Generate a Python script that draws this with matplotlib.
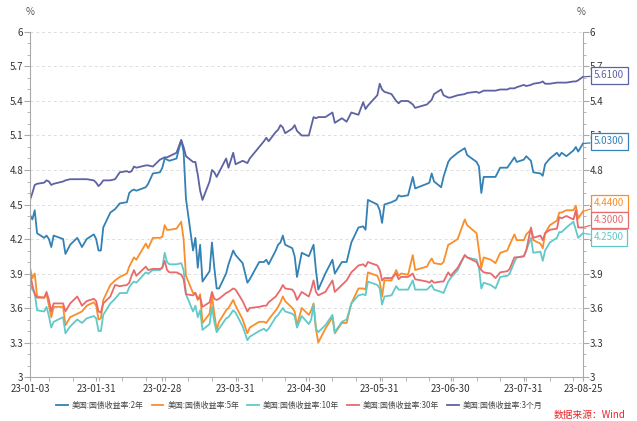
import matplotlib
matplotlib.use("Agg")
import matplotlib.pyplot as plt
import matplotlib.dates as mdates
from matplotlib.ticker import MultipleLocator, FuncFormatter
import pandas as pd

plt.rcParams['font.family'] = ['Noto Sans CJK SC', 'DejaVu Sans']

dates = ["2023-01-03", "2023-01-04", "2023-01-05", "2023-01-06", "2023-01-09", "2023-01-10",
         "2023-01-11", "2023-01-12", "2023-01-13", "2023-01-17", "2023-01-18", "2023-01-20",
         "2023-01-23", "2023-01-25", "2023-01-27", "2023-01-30", "2023-01-31", "2023-02-01",
         "2023-02-02", "2023-02-03", "2023-02-06", "2023-02-08", "2023-02-10", "2023-02-13",
         "2023-02-14", "2023-02-15", "2023-02-16", "2023-02-17", "2023-02-21", "2023-02-22",
         "2023-02-24", "2023-02-27", "2023-02-28", "2023-03-01", "2023-03-02", "2023-03-03",
         "2023-03-06", "2023-03-08", "2023-03-09", "2023-03-10", "2023-03-13", "2023-03-14",
         "2023-03-15", "2023-03-16", "2023-03-17", "2023-03-20", "2023-03-21", "2023-03-22",
         "2023-03-23", "2023-03-24", "2023-03-27", "2023-03-28", "2023-03-30", "2023-03-31",
         "2023-04-03", "2023-04-05", "2023-04-06", "2023-04-10", "2023-04-12", "2023-04-13",
         "2023-04-14", "2023-04-17", "2023-04-18", "2023-04-19", "2023-04-20", "2023-04-21",
         "2023-04-24", "2023-04-25", "2023-04-26", "2023-04-28", "2023-05-01", "2023-05-02",
         "2023-05-03", "2023-05-04", "2023-05-05", "2023-05-08", "2023-05-11", "2023-05-12",
         "2023-05-15", "2023-05-17", "2023-05-19", "2023-05-22", "2023-05-24", "2023-05-25",
         "2023-05-26", "2023-05-30", "2023-05-31", "2023-06-01", "2023-06-02", "2023-06-05",
         "2023-06-07", "2023-06-08", "2023-06-09", "2023-06-12", "2023-06-14", "2023-06-15",
         "2023-06-20", "2023-06-21", "2023-06-22", "2023-06-23", "2023-06-26", "2023-06-27",
         "2023-06-29", "2023-06-30", "2023-07-03", "2023-07-06", "2023-07-07", "2023-07-11",
         "2023-07-12", "2023-07-13", "2023-07-14", "2023-07-17", "2023-07-19", "2023-07-21",
         "2023-07-24", "2023-07-25", "2023-07-27", "2023-07-28", "2023-07-31", "2023-08-01",
         "2023-08-03", "2023-08-04", "2023-08-07", "2023-08-08", "2023-08-09", "2023-08-11",
         "2023-08-14", "2023-08-15", "2023-08-16", "2023-08-18", "2023-08-21", "2023-08-22",
         "2023-08-23", "2023-08-25"]

y2 = [4.41, 4.37, 4.45, 4.25, 4.21, 4.23, 4.20, 4.13, 4.23, 4.20, 4.07, 4.15,
      4.21, 4.13, 4.20, 4.24, 4.20, 4.10, 4.10, 4.30, 4.43, 4.46, 4.51, 4.52,
      4.60, 4.62, 4.63, 4.62, 4.65, 4.68, 4.77, 4.78, 4.82, 4.90, 4.89, 4.88,
      4.90, 5.06, 4.96, 4.55, 4.10, 4.21, 3.95, 4.15, 3.83, 3.92, 4.17, 3.95,
      3.77, 3.77, 3.90, 3.98, 4.10, 4.06, 3.99, 3.82, 3.85, 4.00, 4.00, 4.02,
      3.98, 4.10, 4.15, 4.17, 4.23, 4.15, 4.12, 4.05, 3.87, 4.08, 4.05, 4.10,
      4.15, 3.93, 3.76, 3.90, 4.02, 3.90, 4.00, 4.00, 4.17, 4.30, 4.31, 4.28,
      4.54, 4.50, 4.45, 4.34, 4.50, 4.52, 4.54, 4.58, 4.57, 4.58, 4.74, 4.64,
      4.68, 4.69, 4.77, 4.70, 4.65, 4.74, 4.87, 4.90, 4.95, 4.99, 4.93, 4.87,
      4.83, 4.60, 4.74, 4.74, 4.74, 4.82, 4.82, 4.85, 4.91, 4.87, 4.89, 4.92,
      4.88, 4.78, 4.77, 4.75, 4.85, 4.90, 4.95, 4.92, 4.95, 4.92, 4.97, 5.00,
      4.96, 5.03]

y5 = [3.95, 3.86, 3.90, 3.70, 3.69, 3.72, 3.62, 3.52, 3.61, 3.61, 3.45, 3.52,
      3.55, 3.57, 3.62, 3.65, 3.62, 3.50, 3.51, 3.67, 3.80, 3.84, 3.87, 3.90,
      3.96, 4.00, 4.04, 4.02, 4.16, 4.12, 4.21, 4.21, 4.22, 4.32, 4.28, 4.28,
      4.29, 4.35, 4.20, 3.88, 3.73, 3.73, 3.67, 3.72, 3.47, 3.55, 3.71, 3.55,
      3.41, 3.48, 3.58, 3.60, 3.67, 3.62, 3.50, 3.38, 3.43, 3.48, 3.48, 3.47,
      3.50, 3.58, 3.61, 3.65, 3.70, 3.66, 3.60, 3.57, 3.45, 3.60, 3.54, 3.58,
      3.64, 3.42, 3.30, 3.42, 3.52, 3.38, 3.47, 3.47, 3.64, 3.77, 3.77, 3.76,
      3.91, 3.88, 3.83, 3.70, 3.84, 3.84, 3.93, 3.88, 3.90, 3.89, 4.06, 3.93,
      3.96, 4.00, 4.03, 3.99, 3.98, 4.00, 4.15, 4.16, 4.20, 4.37, 4.32, 4.25,
      4.10, 3.95, 4.04, 4.02, 3.99, 4.08, 4.10, 4.15, 4.24, 4.19, 4.19, 4.24,
      4.28, 4.19, 4.16, 4.12, 4.25, 4.32, 4.36, 4.43, 4.43, 4.45, 4.45, 4.49,
      4.38, 4.44]

y10 = [3.82, 3.76, 3.73, 3.58, 3.57, 3.61, 3.53, 3.43, 3.48, 3.52, 3.38, 3.44,
       3.50, 3.47, 3.51, 3.53, 3.51, 3.40, 3.40, 3.54, 3.64, 3.68, 3.73, 3.73,
       3.78, 3.81, 3.83, 3.82, 3.91, 3.90, 3.93, 3.93, 3.95, 4.08, 4.00, 3.98,
       3.98, 3.99, 3.93, 3.72, 3.57, 3.62, 3.52, 3.58, 3.41, 3.46, 3.61, 3.48,
       3.39, 3.42, 3.51, 3.52, 3.58, 3.56, 3.44, 3.32, 3.35, 3.40, 3.42, 3.40,
       3.42, 3.52, 3.54, 3.57, 3.60, 3.57, 3.55, 3.53, 3.43, 3.53, 3.46, 3.50,
       3.63, 3.42, 3.39, 3.45, 3.54, 3.39, 3.48, 3.50, 3.64, 3.71, 3.72, 3.71,
       3.83, 3.80, 3.77, 3.63, 3.70, 3.71, 3.79, 3.76, 3.76, 3.76, 3.84, 3.76,
       3.76, 3.78, 3.80, 3.76, 3.74, 3.73, 3.83, 3.86, 3.93, 4.06, 4.04, 4.02,
       3.95, 3.77, 3.82, 3.80, 3.77, 3.87, 3.88, 3.90, 4.00, 4.04, 4.05, 4.10,
       4.21, 4.08, 4.09, 4.01, 4.10, 4.17, 4.21, 4.26, 4.26, 4.30, 4.35, 4.28,
       4.21, 4.25]

y30 = [3.90, 3.80, 3.72, 3.69, 3.69, 3.74, 3.67, 3.57, 3.64, 3.64, 3.57, 3.64,
       3.70, 3.62, 3.66, 3.68, 3.66, 3.57, 3.56, 3.64, 3.70, 3.80, 3.79, 3.80,
       3.82, 3.88, 3.93, 3.88, 3.96, 3.93, 3.94, 3.94, 3.95, 4.01, 3.93, 3.91,
       3.91, 3.89, 3.85, 3.72, 3.71, 3.73, 3.68, 3.69, 3.61, 3.65, 3.74, 3.68,
       3.67, 3.68, 3.73, 3.74, 3.77, 3.76, 3.66, 3.57, 3.60, 3.61, 3.62, 3.62,
       3.65, 3.70, 3.73, 3.76, 3.80, 3.77, 3.76, 3.73, 3.67, 3.74, 3.70, 3.76,
       3.84, 3.74, 3.71, 3.74, 3.84, 3.74, 3.80, 3.84, 3.91, 3.97, 3.98, 3.96,
       4.00, 3.97, 3.93, 3.84, 3.86, 3.86, 3.90, 3.85, 3.87, 3.87, 3.90, 3.85,
       3.83, 3.82, 3.84, 3.82, 3.83, 3.83, 3.91, 3.88, 3.95, 4.06, 4.04, 4.00,
       3.96, 3.93, 3.91, 3.90, 3.86, 3.91, 3.92, 3.94, 4.04, 4.04, 4.05, 4.10,
       4.30, 4.21, 4.23, 4.19, 4.25, 4.28, 4.29, 4.39, 4.38, 4.40, 4.37, 4.45,
       4.30, 4.30]

y3m = [4.54, 4.60, 4.67, 4.68, 4.69, 4.71, 4.70, 4.67, 4.68, 4.70, 4.71, 4.72,
       4.72, 4.72, 4.72, 4.71, 4.69, 4.66, 4.68, 4.71, 4.71, 4.72, 4.78, 4.79,
       4.78, 4.79, 4.83, 4.82, 4.84, 4.84, 4.83, 4.89, 4.90, 4.91, 4.91, 4.92,
       4.95, 5.06, 5.00, 4.92, 4.87, 4.87, 4.76, 4.62, 4.54, 4.70, 4.80, 4.78,
       4.74, 4.78, 4.90, 4.82, 4.95, 4.85, 4.88, 4.86, 4.90, 5.00, 5.05, 5.08,
       5.05, 5.13, 5.15, 5.19, 5.17, 5.12, 5.16, 5.19, 5.14, 5.10, 5.10, 5.18,
       5.26, 5.25, 5.26, 5.26, 5.30, 5.21, 5.25, 5.22, 5.30, 5.28, 5.39, 5.33,
       5.36, 5.45, 5.55, 5.50, 5.48, 5.46, 5.40, 5.38, 5.40, 5.40, 5.37, 5.34,
       5.37, 5.39, 5.41, 5.46, 5.50, 5.45, 5.43, 5.43, 5.45, 5.46, 5.47, 5.48,
       5.47, 5.48, 5.49, 5.49, 5.49, 5.50, 5.50, 5.51, 5.51, 5.52, 5.54, 5.53,
       5.54, 5.55, 5.56, 5.57, 5.55, 5.55, 5.56, 5.56, 5.56, 5.56, 5.57, 5.57,
       5.58, 5.61]

names = ["美国:国债收益率:2年", "美国:国债收益率:5年", "美国:国债收益率:10年",
         "美国:国债收益率:30年", "美国:国债收益率:3个月"]
colors = ["#3381b5", "#f98e2a", "#62c9c9", "#e76a6c", "#5d62a3"]
end_labels = ["5.0300", "4.4400", "4.2500", "4.3000", "5.6100"]
label_pos = [5.05, 4.51, 4.215, 4.365, 5.625]

tick_dates = ["2023-01-03", "2023-01-31", "2023-02-28", "2023-03-31", "2023-04-30",
              "2023-05-31", "2023-06-30", "2023-07-31", "2023-08-25"]
tick_labels = ["23-01-03", "23-01-31", "23-02-28", "23-03-31", "23-04-30",
               "23-05-31", "23-06-30", "23-07-31", "23-08-25"]

x = pd.to_datetime(dates)
series = [y2, y5, y10, y30, y3m]

fig = plt.figure(figsize=(6.37, 4.21), dpi=100)
ax = fig.add_axes([0.0471, 0.1045, 0.868, 0.8195])

for ys, name, c in zip(series, names, colors):
    ax.plot(x, ys, color=c, lw=1.3, label=name)

ax.set_xlim(x[0], x[-1])
ax.set_ylim(3, 6)
ax.yaxis.set_major_locator(MultipleLocator(0.3))
ax.yaxis.set_minor_locator(MultipleLocator(0.1))
ax.yaxis.set_major_formatter(FuncFormatter(lambda v, p: "%g" % round(v, 2)))
ax.grid(axis='y', which='major', color='#dddddd', ls=(0, (3, 3)), lw=0.7)

ax.set_xticks(pd.to_datetime(tick_dates))
ax.set_xticklabels(tick_labels)
ax.xaxis.set_minor_locator(mdates.DayLocator(bymonthday=[1, 11, 21]))

for s in ['left', 'right', 'bottom']:
    ax.spines[s].set_color('#aaaaaa')
ax.spines['top'].set_visible(False)
ax.tick_params(axis='both', which='both', colors='#aaaaaa', labelcolor='#333333', labelsize=7)
ax.tick_params(axis='y', which='both', right=True, labelright=True, pad=1)
ax.tick_params(axis='y', which='major', length=4)
ax.tick_params(axis='y', which='minor', length=2.5)
ax.tick_params(axis='x', which='both', length=3, pad=2)

fig.text(0.047, 0.965, "%", fontsize=7, color='#555555', ha='center')
fig.text(0.912, 0.965, "%", fontsize=7, color='#555555', ha='center')

# end-value callouts on the right
for ys, c, lab, ly in zip(series, colors, end_labels, label_pos):
    dy = (ly - ys[-1]) * 115 * 0.72
    ax.annotate(lab, xy=(x[-1], ys[-1]), xycoords='data',
                xytext=(8, dy), textcoords='offset points', fontsize=7, color=c,
                va='center', ha='left', annotation_clip=False, zorder=10,
                bbox=dict(boxstyle='square,pad=0.35', fc='white', ec=c, lw=0.9),
                arrowprops=dict(arrowstyle='-', color=c, lw=0.9, shrinkA=0, shrinkB=0))

fig.legend(loc='lower center', bbox_to_anchor=(0.47, 0.01), ncol=5, frameon=False,
           fontsize=5.7, handlelength=1.5, handletextpad=0.5, columnspacing=1.0,
           labelcolor='#444444')
fig.text(0.982, 0.002, "数据来源：Wind", fontsize=7, color='#e8262a', ha='right', va='bottom')

fig.savefig("out.png", dpi=100)
